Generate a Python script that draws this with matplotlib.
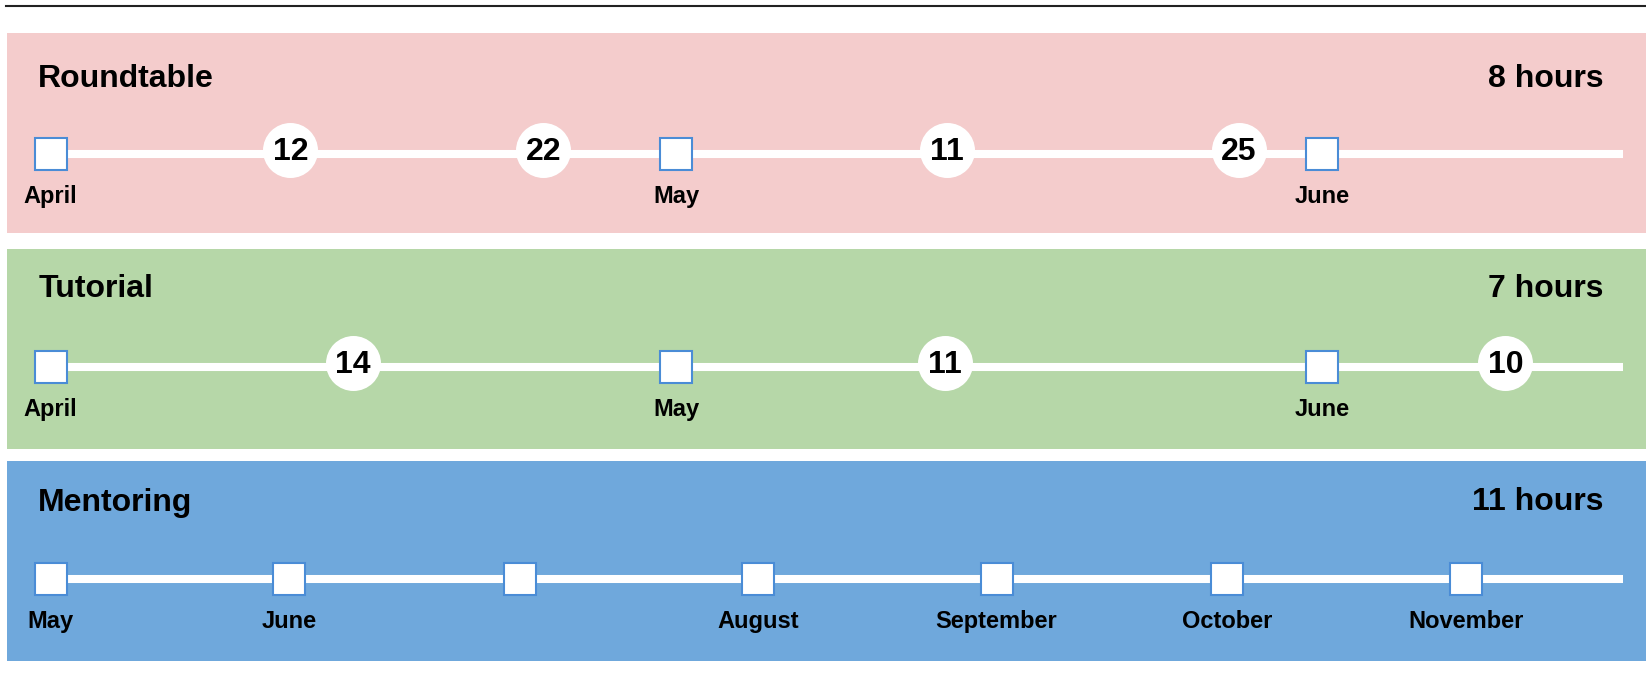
import numpy as np
import matplotlib
matplotlib.use('Agg')
import matplotlib.pyplot as plt
import matplotlib.dates as mdates
from matplotlib.lines import Line2D

plt.rcParams['font.family'] = ['Liberation Sans', 'DejaVu Sans']

# --- data ---
names = ['Roundtable', 'Tutorial', 'Mentoring']
hours = [8, 7, 11]
colors = ['#f4cccc', '#b6d7a8', '#6fa8dc']

rt_months = ['2017-04-01', '2017-05-01', '2017-06-01']
rt_month_labels = ['April', 'May', 'June']
rt_events = ['2017-04-12T12', '2017-04-24T15', '2017-05-14T00', '2017-05-28T00']
rt_event_labels = ['12', '22', '11', '25']
rt_end = '2017-06-15T10'

tu_months = ['2017-04-01', '2017-05-01', '2017-06-01']
tu_month_labels = ['April', 'May', 'June']
tu_events = ['2017-04-15T12', '2017-05-13T22', '2017-06-09T19']
tu_event_labels = ['14', '11', '10']
tu_end = '2017-06-15T10'

me_months = ['2017-05-01', '2017-06-01', '2017-07-01', '2017-08-01',
             '2017-09-01', '2017-10-01', '2017-11-01']
me_month_labels = ['May', 'June', '', 'August', 'September', 'October', 'November']
me_events = []
me_event_labels = []
me_end = '2017-11-21T10'

panels = [
    (rt_months, rt_month_labels, rt_events, rt_event_labels, rt_end),
    (tu_months, tu_month_labels, tu_events, tu_event_labels, tu_end),
    (me_months, me_month_labels, me_events, me_event_labels, me_end),
]

W, H = 1646, 684
fig = plt.figure(figsize=(W / 100, H / 100), dpi=100)

# thin rule at the very top
fig.add_artist(Line2D([6 / W, 1], [1 - 6 / H, 1 - 6 / H], color='#222222', lw=1.5))

panel_tops = [33, 249, 461]
content_dy = [3, 0, 0]
title_base = [54, 48, 49.5]
panel_h = 200
ax_left, ax_w = 7, 1639
pad_left, line_px = 43.7, 1572

def dn(vals):
    return mdates.date2num(np.array(vals, dtype='datetime64[m]'))

for i, (months, mlabels, events, elabels, end) in enumerate(panels):
    top = panel_tops[i]
    ax = fig.add_axes([ax_left / W, 1 - (top + panel_h) / H, ax_w / W, panel_h / H])
    ax.set_facecolor(colors[i])
    for s in ax.spines.values():
        s.set_visible(False)
    ax.set_xticks([])
    ax.set_yticks([])

    mx = dn(months)
    x_end = dn([end])[0]
    s = (x_end - mx[0]) / line_px
    ax.set_xlim(mx[0] - pad_left * s, mx[0] + (ax_w - pad_left) * s)
    ax.set_ylim(panel_h, 0)

    y_line = 118 + content_dy[i]
    ax.plot([mx[0], x_end], [y_line, y_line], color='white', lw=5.8,
            solid_capstyle='butt', zorder=1)
    ax.plot(mx, [y_line] * len(mx), 's', ms=22.5, mfc='white', mec='#4a8cd6',
            mew=1.5, zorder=3)
    for x, lab in zip(mx, mlabels):
        ax.text(x, y_line + 49, lab, ha='center', va='baseline', fontsize=17,
                fontweight='bold', color='black')

    if events:
        ex = dn(events)
        ax.plot(ex, [y_line - 4] * len(ex), 'o', ms=39.6, mfc='white', mec='none',
                zorder=2)
        for x, lab in zip(ex, elabels):
            ax.text(x, y_line + 6, lab, ha='center', va='baseline', fontsize=23,
                    fontweight='bold', color='black', zorder=4)

    ax.text(0.019, 1 - title_base[i] / panel_h, names[i], transform=ax.transAxes,
            ha='left', va='baseline', fontsize=23, fontweight='bold')
    ax.text(0.9742, 1 - title_base[i] / panel_h, f'{hours[i]} hours',
            transform=ax.transAxes, ha='right', va='baseline', fontsize=23,
            fontweight='bold')

fig.savefig('out.png', dpi=100)
